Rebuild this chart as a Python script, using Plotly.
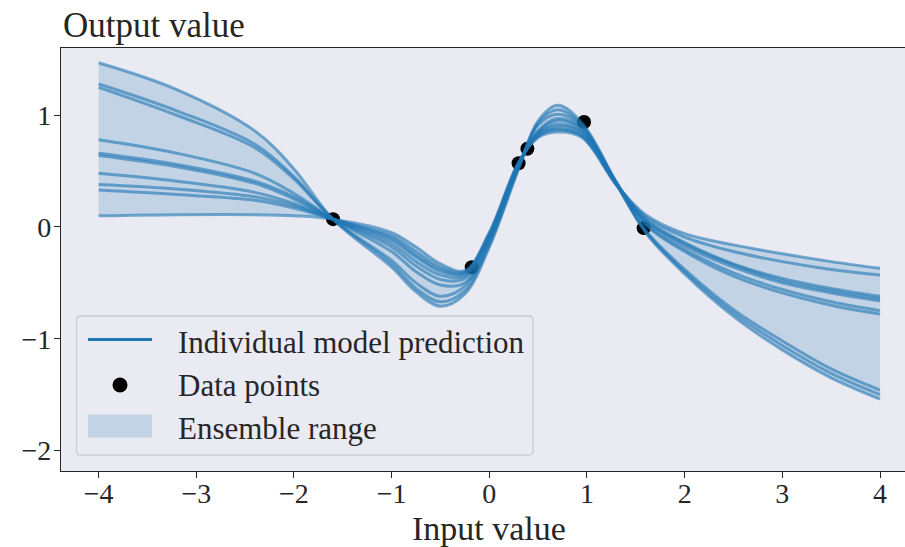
import plotly.graph_objects as go

# Input locations at which each ensemble member's prediction is tabulated
x_grid = [-4.0, -3.2, -2.4, -2.0, -1.6, -1.0, -0.75, -0.5, -0.25, 0.0, 0.3,
          0.5, 0.7, 0.95, 1.3, 1.6, 2.0, 2.5, 3.0, 3.5, 4.0]

# Predictions of the ten ensemble members on x_grid
model_1 = [1.47, 1.23, 0.86, 0.52, 0.07, -0.36, -0.58, -0.71, -0.60, -0.18, 0.52,
           0.95, 1.09, 0.93, 0.40, -0.05, -0.42, -0.80, -1.10, -1.35, -1.54]
model_2 = [1.28, 1.04, 0.74, 0.45, 0.07, -0.33, -0.55, -0.67, -0.57, -0.16, 0.53,
           0.93, 1.05, 0.91, 0.39, -0.04, -0.40, -0.77, -1.06, -1.31, -1.50]
model_3 = [1.25, 1.00, 0.71, 0.43, 0.07, -0.30, -0.50, -0.62, -0.53, -0.14, 0.54,
           0.91, 1.01, 0.90, 0.38, -0.03, -0.38, -0.74, -1.02, -1.27, -1.46]
model_4 = [0.78, 0.66, 0.48, 0.30, 0.07, -0.22, -0.40, -0.52, -0.50, -0.12, 0.55,
           0.86, 0.97, 0.88, 0.40, 0.02, -0.22, -0.44, -0.59, -0.70, -0.78]
model_5 = [0.66, 0.56, 0.41, 0.27, 0.07, -0.18, -0.35, -0.47, -0.46, -0.10, 0.56,
           0.85, 0.95, 0.87, 0.40, 0.03, -0.20, -0.41, -0.56, -0.67, -0.75]
model_6 = [0.64, 0.54, 0.39, 0.25, 0.07, -0.15, -0.31, -0.43, -0.44, -0.09, 0.56,
           0.84, 0.92, 0.85, 0.39, 0.05, -0.17, -0.36, -0.50, -0.59, -0.66]
model_7 = [0.48, 0.41, 0.31, 0.21, 0.07, -0.12, -0.27, -0.40, -0.42, -0.08, 0.57,
           0.83, 0.90, 0.84, 0.39, 0.06, -0.15, -0.34, -0.48, -0.57, -0.64]
model_8 = [0.38, 0.34, 0.27, 0.19, 0.07, -0.10, -0.25, -0.38, -0.41, -0.07, 0.57,
           0.82, 0.88, 0.82, 0.38, 0.07, -0.14, -0.33, -0.46, -0.55, -0.62]
model_9 = [0.33, 0.29, 0.24, 0.17, 0.07, -0.08, -0.22, -0.36, -0.40, -0.06, 0.57,
           0.81, 0.87, 0.81, 0.38, 0.09, -0.09, -0.22, -0.31, -0.38, -0.43]
model_10 = [0.10, 0.11, 0.11, 0.10, 0.07, -0.05, -0.18, -0.33, -0.39, -0.05, 0.58,
            0.80, 0.85, 0.80, 0.38, 0.11, -0.06, -0.16, -0.24, -0.31, -0.37]

# Observed training data
data_x = [-1.60, -0.18, 0.30, 0.39, 0.97, 1.58]
data_y = [0.07, -0.36, 0.57, 0.70, 0.94, -0.01]

x_ticks = [-4, -3, -2, -1, 0, 1, 2, 3, 4]
y_ticks = [-2, -1, 0, 1]

legend_labels = ["Individual model prediction", "Data points", "Ensemble range"]

models = [model_1, model_2, model_3, model_4, model_5,
          model_6, model_7, model_8, model_9, model_10]
lower = [min(vals) for vals in zip(*models)]
upper = [max(vals) for vals in zip(*models)]

BLUE = "#1f77b4"
LINE_RGBA = "rgba(31,119,180,0.6)"
FILL_RGBA = "rgba(31,119,180,0.2)"
TEXT = "#262626"
FONT = "Liberation Serif"

W, H = 905, 547
M_L, M_R, M_T, M_B = 61, 0, 48, 76
PLOT_W = W - M_L - M_R
PLOT_H = H - M_T - M_B


def px(xp):
    """Horizontal pixel -> paper fraction."""
    return (xp - M_L) / PLOT_W


def py(yp):
    """Vertical pixel (from top) -> paper fraction."""
    return (H - M_B - yp) / PLOT_H


fig = go.Figure()

# Ensemble envelope
fig.add_trace(go.Scatter(x=x_grid, y=lower, mode="lines", line=dict(width=0, shape="spline"),
                         showlegend=False, hoverinfo="skip"))
fig.add_trace(go.Scatter(x=x_grid, y=upper, mode="lines", line=dict(width=0, shape="spline"),
                         fill="tonexty", fillcolor=FILL_RGBA, showlegend=False))

# Data points
fig.add_trace(go.Scatter(x=data_x, y=data_y, mode="markers",
                         marker=dict(color="black", size=14, line=dict(width=0)),
                         showlegend=False))

# Individual members
for vals in models:
    fig.add_trace(go.Scatter(x=x_grid, y=vals, mode="lines",
                             line=dict(color=LINE_RGBA, width=3, shape="spline"),
                             showlegend=False))

# Legend box (rounded frame) with its three glyphs
bx0, bx1, by0, by1, r = 76.5, 533, 316, 455, 4
rx, ry = r / PLOT_W, r / PLOT_H
X0, X1, Y0, Y1 = px(bx0), px(bx1), py(by1), py(by0)
frame_path = (
    f"M{X0 + rx},{Y0} L{X1 - rx},{Y0} Q{X1},{Y0} {X1},{Y0 + ry} "
    f"L{X1},{Y1 - ry} Q{X1},{Y1} {X1 - rx},{Y1} "
    f"L{X0 + rx},{Y1} Q{X0},{Y1} {X0},{Y1 - ry} "
    f"L{X0},{Y0 + ry} Q{X0},{Y0} {X0 + rx},{Y0} Z"
)
row_y = [339.5, 385, 426]
shapes = [
    dict(type="path", path=frame_path, xref="paper", yref="paper",
         fillcolor="#EAEAF2", line=dict(color="#CCCCCC", width=1.3), layer="above"),
    dict(type="line", xref="paper", yref="paper", x0=px(88), x1=px(152),
         y0=py(row_y[0]), y1=py(row_y[0]), line=dict(color=BLUE, width=3), layer="above"),
    dict(type="circle", xref="paper", yref="paper", x0=px(112.5), x1=px(127.5),
         y0=py(row_y[1] + 7.5), y1=py(row_y[1] - 7.5), fillcolor="black",
         line=dict(width=0), layer="above"),
    dict(type="rect", xref="paper", yref="paper", x0=px(88), x1=px(152),
         y0=py(437.5), y1=py(414.5), fillcolor=FILL_RGBA, line=dict(width=0), layer="above"),
]

legend_text_y = [340, 383, 426]
annotations = [
    dict(text=label, xref="paper", yref="paper", x=px(176), y=py(yc + 2),
         xanchor="left", yanchor="middle", showarrow=False,
         font=dict(family=FONT, size=31, color=TEXT))
    for label, yc in zip(legend_labels, legend_text_y)
]
annotations += [
    dict(text="Output value", xref="paper", yref="paper", x=0, y=1,
         xanchor="left", yanchor="bottom", showarrow=False, yshift=1,
         font=dict(family=FONT, size=35, color=TEXT)),
    dict(text="Input value", xref="x", yref="paper", x=0, y=0,
         xanchor="center", yanchor="top", showarrow=False, yshift=-37,
         font=dict(family=FONT, size=34, color=TEXT)),
]

axis_common = dict(
    showgrid=False, zeroline=False, showline=True, linecolor=TEXT, linewidth=1.25,
    ticks="outside", ticklen=6, tickwidth=1.25, tickcolor=TEXT,
    tickfont=dict(family=FONT, size=28, color=TEXT),
)

fig.update_layout(
    width=W, height=H,
    margin=dict(l=M_L, r=M_R, t=M_T, b=M_B),
    paper_bgcolor="white", plot_bgcolor="#EAEAF2",
    font=dict(family=FONT, color=TEXT),
    showlegend=False,
    xaxis=dict(range=[-4.385, 4.256], tickvals=x_ticks, mirror=True,
               ticklabelstandoff=-9, **axis_common),
    yaxis=dict(range=[-2.184, 1.602], tickvals=y_ticks, ticklabelstandoff=-3,
               **axis_common),
    shapes=shapes,
    annotations=annotations,
)

fig.write_html("out.html")
